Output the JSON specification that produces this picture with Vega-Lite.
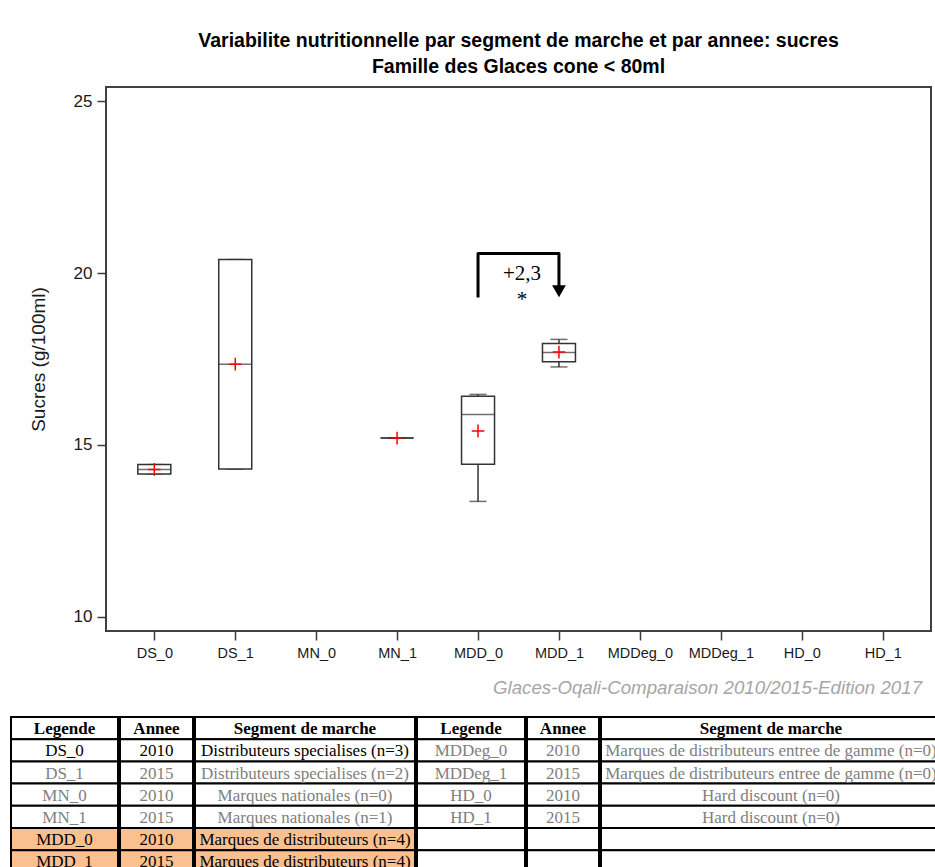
{
  "$schema": "https://vega.github.io/schema/vega-lite/v6.json",
  "background": "white",
  "padding": {"left": 10, "top": 29, "right": 0, "bottom": 0},
  "spacing": 18,
  "center": true,
  "config": {
    "view": {"stroke": null},
    "axis": {"grid": false, "domain": false, "tickColor": "#3c3c3c", "tickWidth": 1.5, "tickSize": 9, "labelFont": "Liberation Sans", "labelColor": "#1a1a1a", "titleFont": "Liberation Sans", "titleColor": "#1a1a1a", "titleFontWeight": "normal"},
    "axisY": {"labelFontSize": 17, "titleFontSize": 19, "labelPadding": 5, "titlePadding": 25, "tickCount": 4},
    "axisX": {"labelFontSize": 14.5, "labelPadding": 6, "labelAngle": 0}
  },
  "datasets": {
    "stats": [
      {"seg": "DS_0", "lo": 14.16, "q1": 14.16, "med": 14.285, "q3": 14.43, "hi": 14.43, "mean": 14.29},
      {"seg": "DS_1", "lo": 14.30, "q1": 14.30, "med": 17.35, "q3": 20.39, "hi": 20.39, "mean": 17.35},
      {"seg": "MN_1", "lo": 15.20, "q1": 15.20, "med": 15.20, "q3": 15.20, "hi": 15.20, "mean": 15.20},
      {"seg": "MDD_0", "lo": 13.36, "q1": 14.44, "med": 15.89, "q3": 16.42, "hi": 16.47, "mean": 15.41},
      {"seg": "MDD_1", "lo": 17.27, "q1": 17.42, "med": 17.69, "q3": 17.95, "hi": 18.07, "mean": 17.70}
    ],
    "bracket": [
      {"seg": "MDD_0", "v": 19.29, "k": 1},
      {"seg": "MDD_0", "v": 20.57, "k": 2},
      {"seg": "MDD_1", "v": 20.57, "k": 3},
      {"seg": "MDD_1", "v": 19.55, "k": 4}
    ],
    "arrowhead": [{"seg": "MDD_1", "v": 19.47}],
    "notes": [
      {"seg": "MDD_0", "v": 19.79, "label": "+2,3"},
      {"seg": "MDD_0", "v": 19.05, "label": "*"}
    ],
    "table": [
      {"col": 0, "row": 0, "txt": "Legende", "status": "header"},
      {"col": 1, "row": 0, "txt": "Annee", "status": "header"},
      {"col": 2, "row": 0, "txt": "Segment de marche", "status": "header"},
      {"col": 3, "row": 0, "txt": "Legende", "status": "header"},
      {"col": 4, "row": 0, "txt": "Annee", "status": "header"},
      {"col": 5, "row": 0, "txt": "Segment de marche", "status": "header"},
      {"col": 0, "row": 1, "txt": "DS_0", "status": "normal"},
      {"col": 1, "row": 1, "txt": "2010", "status": "normal"},
      {"col": 2, "row": 1, "txt": "Distributeurs specialises (n=3)", "status": "normal"},
      {"col": 0, "row": 2, "txt": "DS_1", "status": "muted"},
      {"col": 1, "row": 2, "txt": "2015", "status": "muted"},
      {"col": 2, "row": 2, "txt": "Distributeurs specialises (n=2)", "status": "muted"},
      {"col": 0, "row": 3, "txt": "MN_0", "status": "muted"},
      {"col": 1, "row": 3, "txt": "2010", "status": "muted"},
      {"col": 2, "row": 3, "txt": "Marques nationales (n=0)", "status": "muted"},
      {"col": 0, "row": 4, "txt": "MN_1", "status": "muted"},
      {"col": 1, "row": 4, "txt": "2015", "status": "muted"},
      {"col": 2, "row": 4, "txt": "Marques nationales (n=1)", "status": "muted"},
      {"col": 0, "row": 5, "txt": "MDD_0", "status": "highlight"},
      {"col": 1, "row": 5, "txt": "2010", "status": "highlight"},
      {"col": 2, "row": 5, "txt": "Marques de distributeurs (n=4)", "status": "highlight"},
      {"col": 0, "row": 6, "txt": "MDD_1", "status": "highlight"},
      {"col": 1, "row": 6, "txt": "2015", "status": "highlight"},
      {"col": 2, "row": 6, "txt": "Marques de distributeurs (n=4)", "status": "highlight"},
      {"col": 3, "row": 1, "txt": "MDDeg_0", "status": "muted"},
      {"col": 4, "row": 1, "txt": "2010", "status": "muted"},
      {"col": 5, "row": 1, "txt": "Marques de distributeurs entree de gamme (n=0)", "status": "muted"},
      {"col": 3, "row": 2, "txt": "MDDeg_1", "status": "muted"},
      {"col": 4, "row": 2, "txt": "2015", "status": "muted"},
      {"col": 5, "row": 2, "txt": "Marques de distributeurs entree de gamme (n=0)", "status": "muted"},
      {"col": 3, "row": 3, "txt": "HD_0", "status": "muted"},
      {"col": 4, "row": 3, "txt": "2010", "status": "muted"},
      {"col": 5, "row": 3, "txt": "Hard discount (n=0)", "status": "muted"},
      {"col": 3, "row": 4, "txt": "HD_1", "status": "muted"},
      {"col": 4, "row": 4, "txt": "2015", "status": "muted"},
      {"col": 5, "row": 4, "txt": "Hard discount (n=0)", "status": "muted"},
      {"col": 3, "row": 5, "txt": "", "status": "empty"},
      {"col": 4, "row": 5, "txt": "", "status": "empty"},
      {"col": 5, "row": 5, "txt": "", "status": "empty"},
      {"col": 3, "row": 6, "txt": "", "status": "empty"},
      {"col": 4, "row": 6, "txt": "", "status": "empty"},
      {"col": 5, "row": 6, "txt": "", "status": "empty"}
    ]
  },
  "vconcat": [
    {
      "width": 825,
      "height": 544,
      "view": {"stroke": "#404040", "strokeWidth": 2},
      "title": {
        "text": ["Variabilite nutritionnelle par segment de marche et par annee: sucres", "Famille des Glaces cone < 80ml"],
        "font": "Liberation Sans", "fontSize": 19.5, "fontWeight": "bold", "color": "#000000",
        "lineHeight": 26, "offset": 10
      },
      "encoding": {
        "x": {
          "field": "seg", "type": "nominal", "title": null,
          "scale": {"type": "point", "padding": 0.597, "domain": ["DS_0", "DS_1", "MN_0", "MN_1", "MDD_0", "MDD_1", "MDDeg_0", "MDDeg_1", "HD_0", "HD_1"]}
        }
      },
      "layer": [
        {
          "data": {"name": "stats"},
          "mark": {"type": "rule", "color": "#333333", "strokeWidth": 1.5},
          "encoding": {
            "y": {"field": "lo", "type": "quantitative", "title": "Sucres (g/100ml)", "scale": {"domain": [9.593, 25.407], "nice": false, "zero": false}},
            "y2": {"field": "q1"}
          }
        },
        {
          "data": {"name": "stats"},
          "mark": {"type": "rule", "color": "#333333", "strokeWidth": 1.5},
          "encoding": {
            "y": {"field": "q3", "type": "quantitative", "title": "Sucres (g/100ml)", "scale": {"domain": [9.593, 25.407], "nice": false, "zero": false}},
            "y2": {"field": "hi"}
          }
        },
        {
          "data": {"name": "stats"},
          "mark": {"type": "tick", "color": "#333333", "size": 17, "thickness": 1.5},
          "encoding": {
            "y": {"field": "lo", "type": "quantitative", "title": "Sucres (g/100ml)", "scale": {"domain": [9.593, 25.407], "nice": false, "zero": false}}
          }
        },
        {
          "data": {"name": "stats"},
          "mark": {"type": "tick", "color": "#333333", "size": 17, "thickness": 1.5},
          "encoding": {
            "y": {"field": "hi", "type": "quantitative", "title": "Sucres (g/100ml)", "scale": {"domain": [9.593, 25.407], "nice": false, "zero": false}}
          }
        },
        {
          "data": {"name": "stats"},
          "mark": {"type": "bar", "fill": "white", "stroke": "#333333", "strokeWidth": 1.5, "size": 33},
          "encoding": {
            "y": {"field": "q1", "type": "quantitative", "title": "Sucres (g/100ml)", "scale": {"domain": [9.593, 25.407], "nice": false, "zero": false}},
            "y2": {"field": "q3"}
          }
        },
        {
          "data": {"name": "stats"},
          "mark": {"type": "tick", "color": "#333333", "size": 33, "thickness": 1.5},
          "encoding": {
            "y": {"field": "med", "type": "quantitative", "title": "Sucres (g/100ml)", "scale": {"domain": [9.593, 25.407], "nice": false, "zero": false}}
          }
        },
        {
          "data": {"name": "stats"},
          "mark": {"type": "point", "shape": "M-1,0L1,0M0,-1L0,1", "filled": false, "stroke": "#ff0000", "strokeWidth": 1.5, "size": 160, "opacity": 1},
          "encoding": {
            "y": {"field": "mean", "type": "quantitative", "title": "Sucres (g/100ml)", "scale": {"domain": [9.593, 25.407], "nice": false, "zero": false}}
          }
        },
        {
          "data": {"name": "bracket"},
          "mark": {"type": "line", "color": "#000000", "strokeWidth": 3, "strokeJoin": "round", "strokeCap": "butt"},
          "encoding": {
            "y": {"field": "v", "type": "quantitative", "title": "Sucres (g/100ml)", "scale": {"domain": [9.593, 25.407], "nice": false, "zero": false}},
            "order": {"field": "k", "type": "quantitative"}
          }
        },
        {
          "data": {"name": "arrowhead"},
          "mark": {"type": "point", "shape": "triangle-down", "filled": true, "color": "#000000", "size": 190, "opacity": 1},
          "encoding": {
            "y": {"field": "v", "type": "quantitative", "title": "Sucres (g/100ml)", "scale": {"domain": [9.593, 25.407], "nice": false, "zero": false}}
          }
        },
        {
          "data": {"name": "notes"},
          "mark": {"type": "text", "font": "Liberation Serif", "fontSize": 21, "color": "#000000", "baseline": "alphabetic", "align": "center", "dx": 44},
          "encoding": {
            "y": {"field": "v", "type": "quantitative", "title": "Sucres (g/100ml)", "scale": {"domain": [9.593, 25.407], "nice": false, "zero": false}},
            "text": {"field": "label"}
          }
        }
      ]
    },
    {
      "data": {"name": "table"},
      "title": {
        "text": "Glaces-Oqali-Comparaison 2010/2015-Edition 2017",
        "orient": "top", "anchor": "start", "font": "Liberation Sans", "fontStyle": "italic", "fontWeight": "normal",
        "fontSize": 18.7, "color": "#a6a6a6", "offset": 18, "dx": 483
      },
      "spacing": 0,
      "hconcat": [
        {
          "width": 107, "height": 155.4,
          "transform": [{"filter": "datum.col == 0"}],
          "encoding": {"y": {"field": "row", "type": "ordinal", "axis": null, "scale": {"paddingInner": 0, "paddingOuter": 0}}},
          "layer": [
            {"mark": {"type": "rect", "stroke": "#000000", "strokeWidth": 2}, "encoding": {"fill": {"field": "status", "type": "nominal", "legend": null, "scale": {"domain": ["header", "normal", "muted", "highlight", "empty"], "range": ["#ffffff", "#ffffff", "#ffffff", "#fac090", "#ffffff"]}}}},
            {"transform": [{"filter": "datum.row == 0"}], "mark": {"type": "text", "font": "Liberation Serif", "fontSize": 17, "fontWeight": "bold", "color": "#000000", "dy": 1}, "encoding": {"text": {"field": "txt"}}},
            {"transform": [{"filter": "datum.row > 0"}], "mark": {"type": "text", "font": "Liberation Serif", "fontSize": 17, "dy": 1}, "encoding": {"text": {"field": "txt"}, "color": {"field": "status", "type": "nominal", "legend": null, "scale": {"domain": ["header", "normal", "muted", "highlight", "empty"], "range": ["#000000", "#000000", "#808080", "#000000", "#000000"]}}}}
          ]
        },
        {
          "width": 73, "height": 155.4,
          "transform": [{"filter": "datum.col == 1"}],
          "encoding": {"y": {"field": "row", "type": "ordinal", "axis": null, "scale": {"paddingInner": 0, "paddingOuter": 0}}},
          "layer": [
            {"mark": {"type": "rect", "stroke": "#000000", "strokeWidth": 2}, "encoding": {"fill": {"field": "status", "type": "nominal", "legend": null, "scale": {"domain": ["header", "normal", "muted", "highlight", "empty"], "range": ["#ffffff", "#ffffff", "#ffffff", "#fac090", "#ffffff"]}}}},
            {"transform": [{"filter": "datum.row == 0"}], "mark": {"type": "text", "font": "Liberation Serif", "fontSize": 17, "fontWeight": "bold", "color": "#000000", "dy": 1}, "encoding": {"text": {"field": "txt"}}},
            {"transform": [{"filter": "datum.row > 0"}], "mark": {"type": "text", "font": "Liberation Serif", "fontSize": 17, "dy": 1}, "encoding": {"text": {"field": "txt"}, "color": {"field": "status", "type": "nominal", "legend": null, "scale": {"domain": ["header", "normal", "muted", "highlight", "empty"], "range": ["#000000", "#000000", "#808080", "#000000", "#000000"]}}}}
          ]
        },
        {
          "width": 220, "height": 155.4,
          "transform": [{"filter": "datum.col == 2"}],
          "encoding": {"y": {"field": "row", "type": "ordinal", "axis": null, "scale": {"paddingInner": 0, "paddingOuter": 0}}},
          "layer": [
            {"mark": {"type": "rect", "stroke": "#000000", "strokeWidth": 2}, "encoding": {"fill": {"field": "status", "type": "nominal", "legend": null, "scale": {"domain": ["header", "normal", "muted", "highlight", "empty"], "range": ["#ffffff", "#ffffff", "#ffffff", "#fac090", "#ffffff"]}}}},
            {"transform": [{"filter": "datum.row == 0"}], "mark": {"type": "text", "font": "Liberation Serif", "fontSize": 17, "fontWeight": "bold", "color": "#000000", "dy": 1}, "encoding": {"text": {"field": "txt"}}},
            {"transform": [{"filter": "datum.row > 0"}], "mark": {"type": "text", "font": "Liberation Serif", "fontSize": 17, "dy": 1}, "encoding": {"text": {"field": "txt"}, "color": {"field": "status", "type": "nominal", "legend": null, "scale": {"domain": ["header", "normal", "muted", "highlight", "empty"], "range": ["#000000", "#000000", "#808080", "#000000", "#000000"]}}}}
          ]
        },
        {
          "width": 108, "height": 155.4,
          "transform": [{"filter": "datum.col == 3"}],
          "encoding": {"y": {"field": "row", "type": "ordinal", "axis": null, "scale": {"paddingInner": 0, "paddingOuter": 0}}},
          "layer": [
            {"mark": {"type": "rect", "stroke": "#000000", "strokeWidth": 2}, "encoding": {"fill": {"field": "status", "type": "nominal", "legend": null, "scale": {"domain": ["header", "normal", "muted", "highlight", "empty"], "range": ["#ffffff", "#ffffff", "#ffffff", "#fac090", "#ffffff"]}}}},
            {"transform": [{"filter": "datum.row == 0"}], "mark": {"type": "text", "font": "Liberation Serif", "fontSize": 17, "fontWeight": "bold", "color": "#000000", "dy": 1}, "encoding": {"text": {"field": "txt"}}},
            {"transform": [{"filter": "datum.row > 0"}], "mark": {"type": "text", "font": "Liberation Serif", "fontSize": 17, "dy": 1}, "encoding": {"text": {"field": "txt"}, "color": {"field": "status", "type": "nominal", "legend": null, "scale": {"domain": ["header", "normal", "muted", "highlight", "empty"], "range": ["#000000", "#000000", "#808080", "#000000", "#000000"]}}}}
          ]
        },
        {
          "width": 72, "height": 155.4,
          "transform": [{"filter": "datum.col == 4"}],
          "encoding": {"y": {"field": "row", "type": "ordinal", "axis": null, "scale": {"paddingInner": 0, "paddingOuter": 0}}},
          "layer": [
            {"mark": {"type": "rect", "stroke": "#000000", "strokeWidth": 2}, "encoding": {"fill": {"field": "status", "type": "nominal", "legend": null, "scale": {"domain": ["header", "normal", "muted", "highlight", "empty"], "range": ["#ffffff", "#ffffff", "#ffffff", "#fac090", "#ffffff"]}}}},
            {"transform": [{"filter": "datum.row == 0"}], "mark": {"type": "text", "font": "Liberation Serif", "fontSize": 17, "fontWeight": "bold", "color": "#000000", "dy": 1}, "encoding": {"text": {"field": "txt"}}},
            {"transform": [{"filter": "datum.row > 0"}], "mark": {"type": "text", "font": "Liberation Serif", "fontSize": 17, "dy": 1}, "encoding": {"text": {"field": "txt"}, "color": {"field": "status", "type": "nominal", "legend": null, "scale": {"domain": ["header", "normal", "muted", "highlight", "empty"], "range": ["#000000", "#000000", "#808080", "#000000", "#000000"]}}}}
          ]
        },
        {
          "width": 340, "height": 155.4,
          "transform": [{"filter": "datum.col == 5"}],
          "encoding": {"y": {"field": "row", "type": "ordinal", "axis": null, "scale": {"paddingInner": 0, "paddingOuter": 0}}},
          "layer": [
            {"mark": {"type": "rect", "stroke": "#000000", "strokeWidth": 2}, "encoding": {"fill": {"field": "status", "type": "nominal", "legend": null, "scale": {"domain": ["header", "normal", "muted", "highlight", "empty"], "range": ["#ffffff", "#ffffff", "#ffffff", "#fac090", "#ffffff"]}}}},
            {"transform": [{"filter": "datum.row == 0"}], "mark": {"type": "text", "font": "Liberation Serif", "fontSize": 17, "fontWeight": "bold", "color": "#000000", "dy": 1}, "encoding": {"text": {"field": "txt"}}},
            {"transform": [{"filter": "datum.row > 0"}], "mark": {"type": "text", "font": "Liberation Serif", "fontSize": 17, "dy": 1}, "encoding": {"text": {"field": "txt"}, "color": {"field": "status", "type": "nominal", "legend": null, "scale": {"domain": ["header", "normal", "muted", "highlight", "empty"], "range": ["#000000", "#000000", "#808080", "#000000", "#000000"]}}}}
          ]
        },
        {
          "width": 85, "height": 155.4,
          "transform": [{"filter": "datum.col > 5"}],
          "mark": {"type": "rect", "opacity": 0},
          "encoding": {"y": {"field": "row", "type": "ordinal", "axis": null}}
        }
      ]
    }
  ]
}
